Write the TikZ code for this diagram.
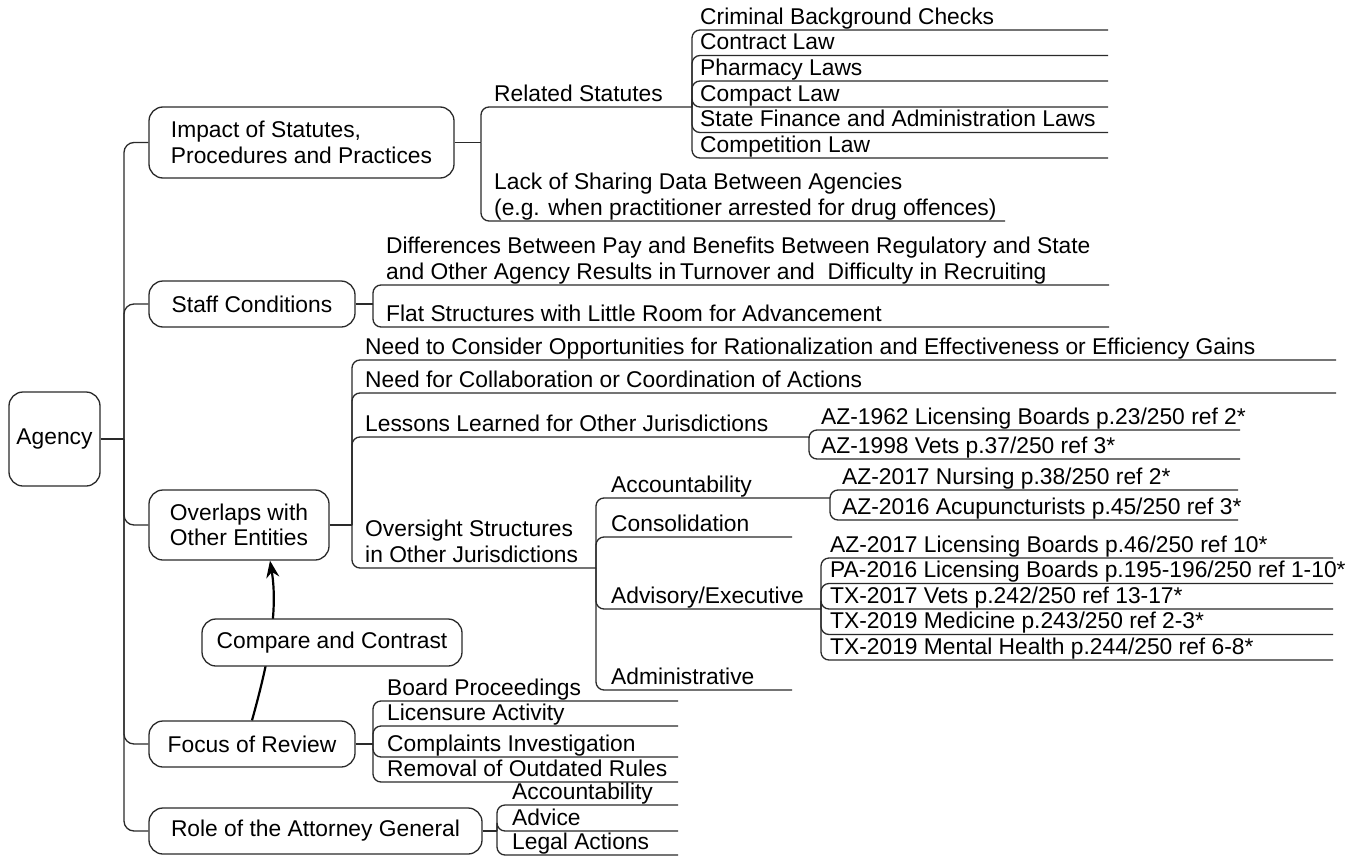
\documentclass[tikz,border=0pt]{standalone}
\usepackage{fontspec}
\setmainfont{Liberation Sans}
\usetikzlibrary{arrows.meta}
\definecolor{linec}{HTML}{2A2A2A}
% depth holder so every topic line sits the same distance above its underline
\newcommand\tstrut{\rule[-5.5pt]{0pt}{5.5pt}}
% \leaf{name}{text x}{underline y}{underline end x}{text}
\newcommand\leaf[5]{%
  \node[topic] (#1) at (#2,#3) {#5\tstrut};
  \coordinate (#1-e) at (#4,#3);}
\begin{document}
\begin{tikzpicture}[x=1pt,y=-1pt,
  every node/.style={font=\fontsize{22.8}{25.5}\selectfont, text=black},
  box/.style={draw=linec, line width=1.3pt, rounded corners=14pt, align=left,
              inner sep=0pt, fill=white},
  topic/.style={anchor=south west, inner sep=0pt, align=left},
  link/.style={draw=linec, line width=1.3pt, rounded corners=8pt},
  trunklink/.style={link, rounded corners=10pt},
  relation/.style={draw=black, line width=2.2pt, -{Stealth[length=17pt,width=13pt]}}]
\fill[white] (0,0) rectangle (1359,859);
\useasboundingbox (0,0) rectangle (1359,859);

% ---------- central topic and main branches ----------
\node[box, minimum width=91pt, minimum height=94pt, align=center] (agency) at (54.5,439) {Agency};
\coordinate (trunk) at (124,439);
\draw[link] (agency.east) -- (trunk);

\node[box, minimum width=305pt, minimum height=71pt] (impact) at (301.5,142.5)
  {Impact of Statutes,\\Procedures and Practices};
\node[box, minimum width=206pt, minimum height=46pt] (staff) at (252,304) {Staff Conditions};
\node[box, minimum width=180pt, minimum height=70pt] (overlaps) at (239,525)
  {Overlaps with\\Other Entities};
\node[box, minimum width=206pt, minimum height=46pt] (focus) at (252,744) {Focus of Review};
\node[box, minimum width=333pt, minimum height=46pt] (ag) at (315.5,831) {Role of the Attorney General};

\foreach \b in {impact,staff,overlaps,focus,ag}
  \draw[trunklink] (trunk) |- (\b.west);

% ---------- Impact of Statutes ----------
\coordinate (impact-j) at (481,142.5);
\draw[link] (impact.east) -- (impact-j);
\leaf{rel}{494}{107}{692}{Related Statutes}
\leaf{lack}{494}{221}{1005}{Lack of Sharing Data Between Agencies\\(e.g. when practitioner arrested for drug offences)}
\foreach \c in {rel,lack} \draw[link] (impact-j) |- (\c-e);

\leaf{crim}{700}{30}{1108}{Criminal Background Checks}
\leaf{contract}{700}{55.5}{1108}{Contract Law}
\leaf{pharm}{700}{81}{1108}{Pharmacy Laws}
\leaf{compact}{700}{107}{1108}{Compact Law}
\leaf{finance}{700}{132.5}{1108}{State Finance and Administration Laws}
\leaf{compet}{700}{158}{1108}{Competition Law}
\foreach \c in {crim,contract,pharm,compact,finance,compet} \draw[link] (rel-e) |- (\c-e);

% ---------- Staff Conditions ----------
\coordinate (staff-j) at (373,304);
\draw[link] (staff.east) -- (staff-j);
\leaf{diff}{386}{285}{1109}{Differences Between Pay and Benefits Between Regulatory and State\\and Other Agency Results in\,Turnover and\ \ Difficulty in Recruiting}
\leaf{flat}{386}{327}{1109}{Flat Structures with Little Room for Advancement}
\foreach \c in {diff,flat} \draw[link] (staff-j) |- (\c-e);

% ---------- Overlaps with Other Entities ----------
\coordinate (ovl-j) at (352,525);
\draw[link] (overlaps.east) -- (ovl-j);
\leaf{consider}{365}{360}{1336}{Need to Consider Opportunities for Rationalization and Effectiveness or Efficiency Gains}
\leaf{collab}{365}{393}{1336}{Need for Collaboration or Coordination of Actions}
\leaf{lessons}{365}{437}{809}{Lessons Learned for Other Jurisdictions}
\leaf{oversight}{365}{568}{596}{Oversight Structures\\in Other Jurisdictions}
\foreach \c in {consider,collab,lessons,oversight} \draw[link] (ovl-j) |- (\c-e);

\leaf{az62}{821}{430}{1240}{AZ-1962 Licensing Boards p.23/250 ref 2*}
\leaf{az98}{821}{459}{1240}{AZ-1998 Vets p.37/250 ref 3*}
\foreach \c in {az62,az98} \draw[link] (lessons-e) |- (\c-e);

\leaf{acc}{611}{498}{830}{Accountability}
\leaf{cons}{611}{537}{792}{Consolidation}
\leaf{adv}{611}{609}{821}{Advisory/Executive}
\leaf{admin}{611}{690}{792}{Administrative}
\foreach \c in {acc,cons,adv,admin} \draw[link] (oversight-e) |- (\c-e);

\leaf{nurs}{842}{490}{1238}{AZ-2017 Nursing p.38/250 ref 2*}
\leaf{acu}{842}{520}{1238}{AZ-2016 Acupuncturists p.45/250 ref 3*}
\foreach \c in {nurs,acu} \draw[link] (acc-e) |- (\c-e);

\leaf{azlic}{830}{558}{1333}{AZ-2017 Licensing Boards p.46/250 ref 10*}
\leaf{palic}{830}{583.5}{1333}{PA-2016 Licensing Boards p.195-196/250 ref 1-10*}
\leaf{txvets}{830}{609}{1333}{TX-2017 Vets p.242/250 ref 13-17*}
\leaf{txmed}{830}{634.5}{1333}{TX-2019 Medicine p.243/250 ref 2-3*}
\leaf{txmh}{830}{660}{1333}{TX-2019 Mental Health p.244/250 ref 6-8*}
\foreach \c in {azlic,palic,txvets,txmed,txmh} \draw[link] (adv-e) |- (\c-e);

% ---------- Focus of Review ----------
\coordinate (focus-j) at (373,744);
\draw[link] (focus.east) -- (focus-j);
\leaf{board}{387}{701}{678}{Board Proceedings}
\leaf{licensure}{387}{726}{678}{Licensure Activity}
\leaf{complaints}{387}{757}{678}{Complaints Investigation}
\leaf{removal}{387}{782}{678}{Removal of Outdated Rules}
\foreach \c in {board,licensure,complaints,removal} \draw[link] (focus-j) |- (\c-e);

% ---------- Role of the Attorney General ----------
\coordinate (ag-j) at (497,831);
\draw[link] (ag.east) -- (ag-j);
\leaf{agacc}{512}{805}{678}{Accountability}
\leaf{advice}{512}{831}{678}{Advice}
\leaf{legal}{512}{855}{678}{Legal Actions}
\foreach \c in {agacc,advice,legal} \draw[link] (ag-j) |- (\c-e);

% ---------- relationship between branches ----------
\draw[relation] (focus.north) .. controls (266,670) and (279,615) .. ([xshift=31pt]overlaps.south);
\node[box, minimum width=260pt, minimum height=47pt] (compare) at (332,642.5) {Compare and Contrast};
\end{tikzpicture}
\end{document}
